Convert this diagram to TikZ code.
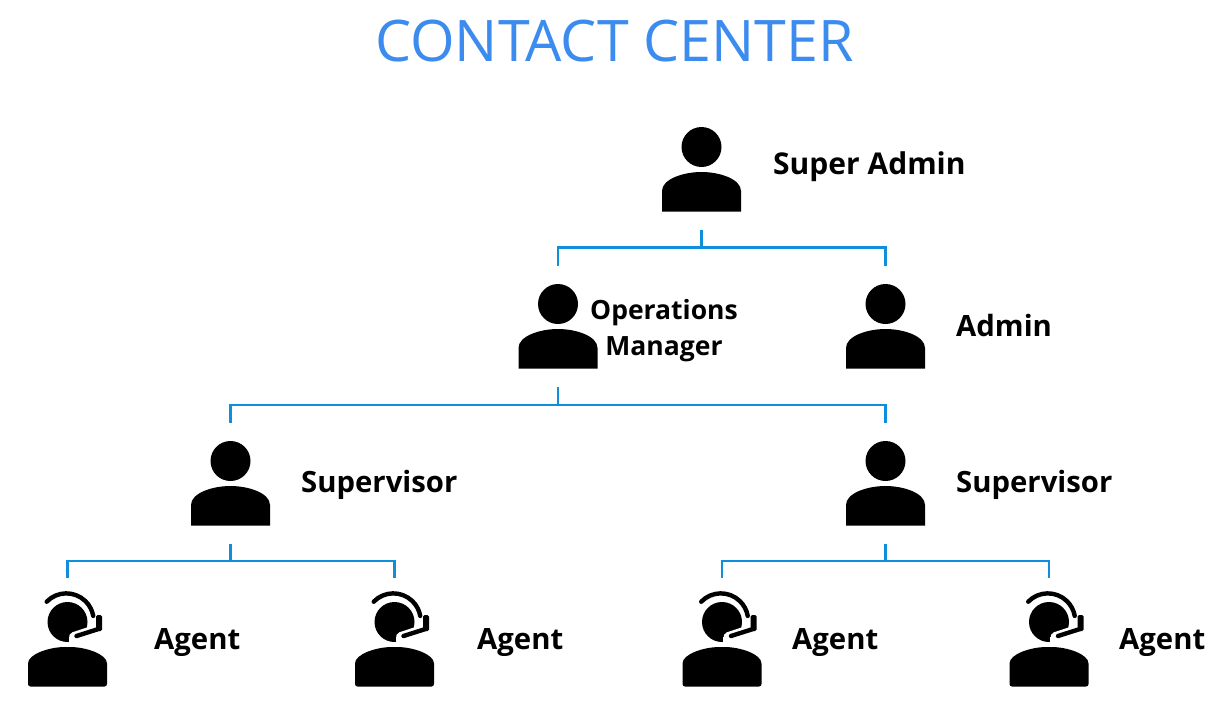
\documentclass[tikz,border=0pt]{standalone}
\usepackage{fontspec}
\setmainfont{Open Sans}
\tikzset{
  x=1pt, y=-1pt,
  ink/.style={fill=black, draw=none},
  wire/.style={draw=linkblue, line width=2.2pt},
  stem/.style={draw=linkblue, line width=2.6pt},
  role/.style={font=\fontsize{29.3}{30}\selectfont\bfseries, inner sep=0pt, text=black, anchor=base west},
  slot/.style={inner sep=0pt, minimum width=80pt},
  torso/.pic={
    \fill[ink] (-39.5,64.5) -- (-39.5,44) .. controls (-39.5,32) and (-18,25) .. (0,25)
      .. controls (18,25) and (39.5,32) .. (39.5,44) -- (39.5,64.5) -- cycle;
    \fill[ink] (0,0) circle[radius=20];
  },
  operator/.pic={
    \fill[ink, rounded corners=2.5pt] (-39.5,64.5) -- (-39.5,44) .. controls (-39.5,32) and (-18,25) .. (0,25)
      .. controls (18,25) and (39.5,32) .. (39.5,44) -- (39.5,64.5) -- cycle;
    \fill[ink] (0,0) circle[radius=20];
    \fill[white] (1,15) rectangle (24,21.5);
    \draw[white, line width=10pt, line cap=round] (6.5,15) -- (31,7);
    \draw[black, line width=4.4pt, line cap=round] (-20.8,-20.3) arc[start angle=224, end angle=350, radius=27.3];
    \fill[ink, rounded corners=1.5pt] (28.5,-7) rectangle (34.5,9);
    \draw[black, line width=4.4pt, line cap=round] (9,14) -- (31,7);
  }
}
\definecolor{linkblue}{HTML}{0F8EDB}
\definecolor{headblue}{HTML}{3C8CF0}
\begin{document}
\begin{tikzpicture}
\useasboundingbox (0,0) rectangle (1230,712);
\node[font=\fontsize{57.3}{57.3}\selectfont, text=headblue, inner sep=0pt] (title) at (614.5,41) {CONTACT CENTER};

% Person icons, each with an invisible slot the connectors attach to
\pic at (701.5,147) {torso};
\node[slot, minimum height=121pt] (superadmin) at (701.5,169.5) {};
\pic at (558,304) {torso};
\node[slot, minimum height=121pt] (opsmgr) at (558,326.5) {};
\pic at (885.5,304) {torso};
\node[slot, minimum height=121pt] (admin) at (885.5,326.5) {};
\pic at (230.5,461) {torso};
\node[slot, minimum height=121pt] (supleft) at (230.5,483.5) {};
\pic at (885.5,461) {torso};
\node[slot, minimum height=121pt] (supright) at (885.5,483.5) {};
\pic at (67.5,622) {operator};
\node[slot, minimum height=109pt] (agentA) at (67.5,632.5) {};
\pic at (394.5,622) {operator};
\node[slot, minimum height=109pt] (agentB) at (394.5,632.5) {};
\pic at (722,622) {operator};
\node[slot, minimum height=109pt] (agentC) at (722,632.5) {};
\pic at (1049,622) {operator};
\node[slot, minimum height=109pt] (agentD) at (1049,632.5) {};

% Role labels
\node[role, font=\fontsize{30}{30}\selectfont\bfseries] (lsa) at (773,174) {Super Admin};
\node[role, anchor=center, font=\fontsize{26.5}{35.5}\selectfont\bfseries, align=center] (lop) at (664,330.5) {Operations\\Manager};
\node[role] (lad) at (956,336) {Admin};
\node[role] (lsl) at (301,492) {Supervisor};
\node[role] (lsr) at (956,492) {Supervisor};
\node[role] (la1) at (154,649) {Agent};
\node[role] (la2) at (477,649) {Agent};
\node[role] (la3) at (792,649) {Agent};
\node[role] (la4) at (1119,649) {Agent};

% Reporting lines: a stem from the parent, then a bus across to each child
\coordinate (bus1) at (0,247.5);
\coordinate (bus2) at (0,405);
\coordinate (bus3) at (0,561);
\draw[stem] (superadmin.south) -- (superadmin.south |- bus1);
\draw[wire] (opsmgr.north) -- (opsmgr.north |- bus1) -- (admin.north |- bus1) -- (admin.north);
\draw[stem] (opsmgr.south) -- (opsmgr.south |- bus2);
\draw[wire] (supleft.north) -- (supleft.north |- bus2) -- (supright.north |- bus2) -- (supright.north);
\draw[stem] (supleft.south) -- (supleft.south |- bus3);
\draw[wire] (agentA.north) -- (agentA.north |- bus3) -- (agentB.north |- bus3) -- (agentB.north);
\draw[stem] (supright.south) -- (supright.south |- bus3);
\draw[wire] (agentC.north) -- (agentC.north |- bus3) -- (agentD.north |- bus3) -- (agentD.north);
\end{tikzpicture}
\end{document}
